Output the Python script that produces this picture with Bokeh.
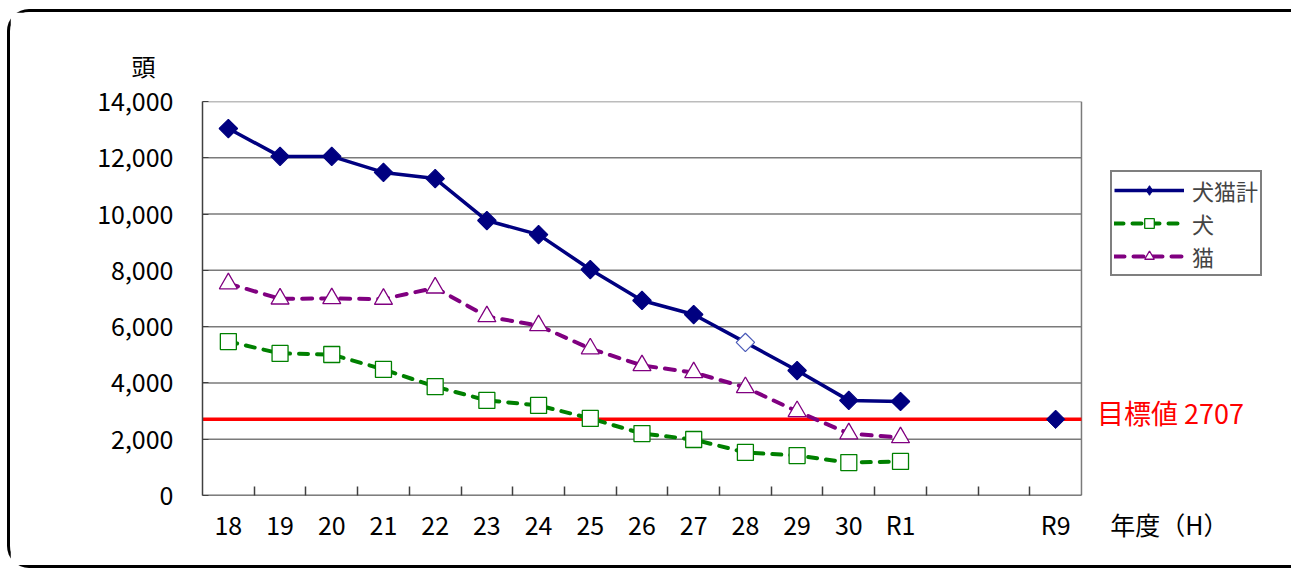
import math
from bokeh.plotting import figure
from bokeh.models import (Range1d, LinearAxis, FixedTicker,
                          NumeralTickFormatter, Label, Legend)
from bokeh.embed import file_html
from bokeh.resources import INLINE

# ---------------- data ----------------
years = ["18", "19", "20", "21", "22", "23", "24", "25", "26", "27", "28", "29", "30", "R1"]
axis_factors = years + ["", "", "R9"]
total = [13040, 12050, 12050, 11480, 11260, 9770, 9270, 8030, 6930, 6430, 5440, 4440, 3380, 3340]
dogs = [5470, 5050, 5010, 4480, 3870, 3380, 3200, 2740, 2200, 1990, 1530, 1420, 1170, 1210]
cats = [7530, 6990, 7000, 6980, 7380, 6360, 6040, 5220, 4620, 4370, 3840, 2990, 2200, 2060]
target_year = "R9"
target_value = 2707
hollow_year = "28"
y_ticks = [0, 2000, 4000, 6000, 8000, 10000, 12000, 14000]
y_max = 14000
x_title = "年度（H）"
y_title = "頭"

NAVY = "#000080"
GREEN = "#008000"
PURPLE = "#800080"
GRID = "#7a7a7a"
FONT = "Noto Sans CJK JP"

n_slots = len(axis_factors)
extra_slots = 4.12          # empty room right of the plotting area (legend, target label)
label_ticks = [i + 0.5 for i, f in enumerate(axis_factors) if f]
label_map = {i + 0.5: f for i, f in enumerate(axis_factors) if f}
label_ticks.append(n_slots + 1.70)
label_map[n_slots + 1.70] = x_title
bounds = list(range(1, n_slots))
xpos = [axis_factors.index(y) + 0.5 for y in years]
target_x = [axis_factors.index(target_year) + 0.5]

p = figure(width=1284, height=559,
           x_range=Range1d(0, n_slots + extra_slots),
           y_range=Range1d(0, y_max),
           x_axis_location=None,
           output_backend="svg", toolbar_location=None,
           min_border_left=192, min_border_right=0,
           min_border_top=89, min_border_bottom=76)
p.styles = {"margin-left": "7px", "margin-top": "9px",
            "border-left": "3px solid black", "border-top": "3px solid black",
            "border-bottom": "3px solid black",
            "border-top-left-radius": "22px", "border-bottom-left-radius": "22px"}
p.outline_line_color = None
p.background_fill_color = "white"

# unit label above the y axis
p.title.text = y_title
p.title.align = "left"
p.title.offset = -71
p.title.standoff = 38
p.title.text_font = FONT
p.title.text_font_size = "24px"
p.title.text_font_style = "normal"
p.title.text_color = "black"

# y axis
ya = p.yaxis[0]
ya.ticker = FixedTicker(ticks=y_ticks)
ya.formatter = NumeralTickFormatter(format="0,0")
ya.major_label_text_font = FONT
ya.major_label_text_font_size = "25px"
ya.major_label_text_color = "black"
ya.major_tick_in = 6
ya.major_tick_out = 0
ya.minor_tick_in = 0
ya.minor_tick_out = 0
ya.major_label_standoff = 29
ya.axis_line_color = "#404040"
ya.axis_line_width = 1.5
ya.major_tick_line_color = "#404040"

p.xgrid.visible = False
p.ygrid.visible = False

# gridlines and right border of the plotting area
p.segment(x0=[0] * len(y_ticks), y0=y_ticks, x1=[n_slots] * len(y_ticks), y1=y_ticks,
          line_color=GRID, line_width=1.5)
p.segment(x0=[n_slots], y0=[0], x1=[n_slots], y1=[y_max], line_color=GRID, line_width=1.5)
p.segment(x0=[0], y0=[0], x1=[n_slots], y1=[0], line_color="#404040", line_width=1.5)

# x axis: labels at slot centres, tick marks at slot boundaries
xa = LinearAxis(ticker=FixedTicker(ticks=label_ticks, minor_ticks=bounds),
                major_label_overrides=label_map,
                major_tick_in=0, major_tick_out=0,
                minor_tick_in=9, minor_tick_out=0,
                axis_line_color=None,
                minor_tick_line_color="#404040", minor_tick_line_width=1.5,
                major_label_text_font=FONT,
                major_label_text_font_size="25px",
                major_label_text_color="black",
                major_label_standoff=10)
p.add_layout(xa, "below")

# target line
p.segment(x0=[0], y0=[target_value], x1=[n_slots], y1=[target_value],
          line_color="#ff0000", line_width=3.5)

# series
total_fill = ["white" if y == hollow_year else NAVY for y in years]
total_edge = ["#4a5ab8" if y == hollow_year else NAVY for y in years]

r1 = p.line(xpos, total, line_color=NAVY, line_width=3.5)
p.scatter(xpos, total, marker="square", angle=math.pi / 4, size=13,
          fill_color=total_fill, line_color=total_edge, line_width=1.2)
r3 = p.line(xpos, dogs, line_color=GREEN, line_width=4, line_dash="9 9",
            line_cap="round")
r4 = p.scatter(xpos, dogs, marker="square", size=16, fill_color="white",
               line_color=GREEN, line_width=1.3)
r5 = p.line(xpos, cats, line_color=PURPLE, line_width=4, line_dash="10 9",
            line_cap="round")
r6 = p.scatter(xpos, cats, marker="triangle", size=18, fill_color="white",
               line_color=PURPLE, line_width=1.3)

# target point (diamond underneath provides the legend symbol)
r2 = p.scatter(target_x, [target_value], marker="diamond", size=15,
               fill_color=NAVY, line_color=NAVY)
p.scatter(target_x, [target_value], marker="square", angle=math.pi / 4,
          size=13, fill_color=NAVY, line_color=NAVY)

# target label
p.add_layout(Label(x=n_slots + 0.3, y=target_value, y_offset=7,
                   text=f"目標値 {target_value}", text_color="#ff0000",
                   text_font=FONT, text_font_size="27px",
                   text_baseline="middle", text_align="left"))

# legend
lg = Legend(items=[("犬猫計", [r1, r2]), ("犬", [r3, r4]), ("猫", [r5, r6])],
            location=(908, 219),
            border_line_color="black", border_line_width=2,
            background_fill_color="white", background_fill_alpha=1,
            label_text_font=FONT, label_text_font_size="22px",
            glyph_width=70, glyph_height=24, label_height=24,
            spacing=1, padding=2, margin=0, label_standoff=8)
p.add_layout(lg)

open("out.html", "w").write(file_html(p, INLINE))
